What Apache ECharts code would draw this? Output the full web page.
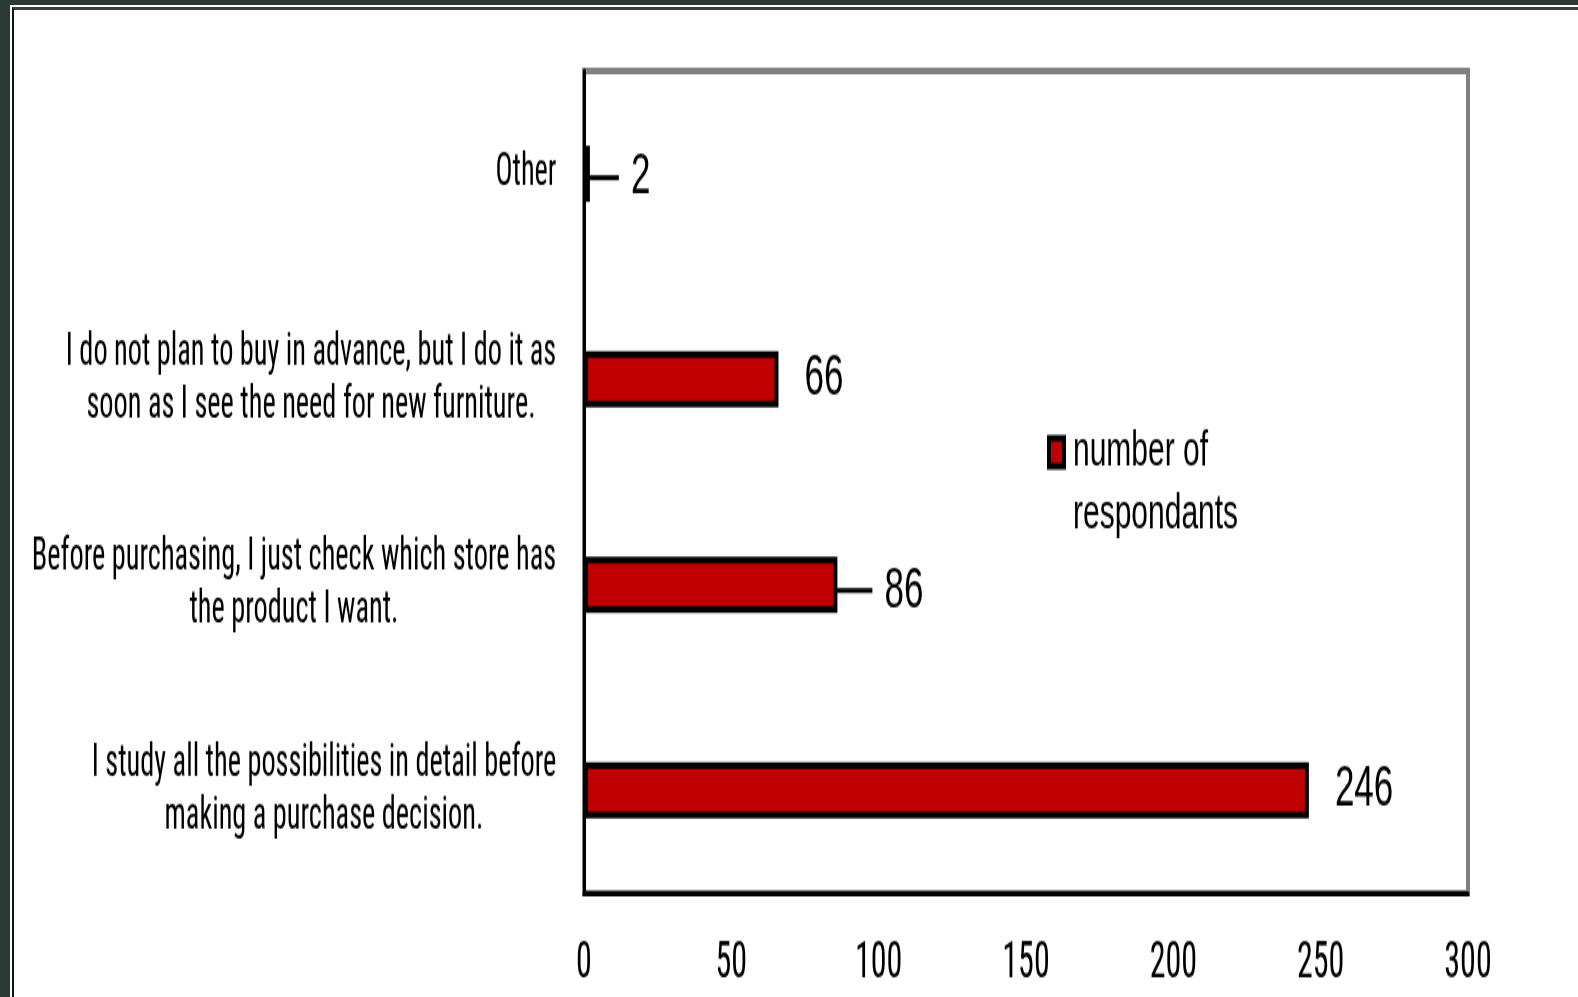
<!DOCTYPE html>
<html>
<head>
<meta charset="utf-8">
<script src="https://cdn.jsdelivr.net/npm/echarts@6/dist/echarts.min.js"></script>
<style>
  html, body { margin: 0; padding: 0; }
  body { width: 1578px; height: 997px; overflow: hidden; background: #293a34; position: relative; }
  #sheet { position: absolute; left: 10px; top: 5px; right: 0; bottom: 0; background: #ffffff; }
  #rule { position: absolute; left: 12px; top: 7px; right: 0; bottom: 0;
          border-left: 2px solid #111; border-top: 3px solid #3c3c3c; }
  /* The chart is laid out in a shorter box and stretched vertically to full height. */
  #chart { position: absolute; left: 0; top: 0; width: 1578px; height: 604px;
           transform: scaleY(1.6507); transform-origin: 0 0; }
</style>
</head>
<body>
<div id="sheet"></div>
<div id="rule"></div>
<div id="chart"></div>
<script>
// Survey answers, listed bottom to top as they appear on the category axis
const categories = [
  'I study all the possibilities in detail before\nmaking a purchase decision.',
  'Before purchasing, I just check which store has\nthe product I want.',
  'I do not plan to buy in advance, but I do it as\nsoon as I see the need for new furniture.',
  'Other'
];
const respondents = [246, 86, 66, 2];
const seriesName = 'number of respondants';
const axisMin = 0;
const axisMax = 300;
const axisStep = 50;

const NARROW = 'Roboto Condensed';
const REGULAR = 'Liberation Sans';
const CAT_FONT_SIZE = 28.3;

// Labels pushed away from their bars, joined back with a leader line
const movedLabels = { 3: { dx: 15, dy: 2.4 }, 1: { dx: 21, dy: 3.6 } };

// Width of each multi-line category label, so its lines can be centred in a right-aligned block
const ctx = document.createElement('canvas').getContext('2d');
ctx.font = CAT_FONT_SIZE + 'px "' + NARROW + '"';
const rich = {};
categories.forEach(function (c, i) {
  const w = Math.max.apply(null, c.split('\n').map(function (l) { return ctx.measureText(l).width; }));
  rich['c' + i] = { width: Math.ceil(w) + 1, align: 'center', fontFamily: NARROW,
                    fontSize: CAT_FONT_SIZE, lineHeight: 32, color: '#000' };
});

const barData = respondents.map(function (v, i) {
  return movedLabels[i] ? { value: v, labelLine: { show: true } } : v;
});

const chart = echarts.init(document.getElementById('chart'), null, { renderer: 'canvas' });
chart.setOption({
  animation: false,
  backgroundColor: 'transparent',
  grid: {
    left: 584, right: 110, top: 43, bottom: 63,
    show: true, borderColor: '#808080', borderWidth: 4,
    containLabel: false, outerBoundsMode: 'none'
  },
  legend: {
    left: 1047, top: 215, orient: 'vertical', padding: 0,
    selectedMode: false,
    icon: 'rect', itemWidth: 15, itemHeight: 17,
    itemStyle: { color: '#c00000', borderColor: '#000', borderWidth: 4 },
    // a blank first line keeps "number of" level with the swatch
    formatter: function (n) { return '\n' + n.replace(' respondants', '\nrespondants'); },
    textStyle: { fontFamily: REGULAR, fontSize: 30, lineHeight: 38, color: '#000', padding: [4, 0, 0, 4] }
  },
  xAxis: {
    type: 'value', min: axisMin, max: axisMax, interval: axisStep,
    axisLine: { show: true, onZero: false, lineStyle: { color: '#000', width: 3 } },
    axisTick: { show: false },
    splitLine: { show: false },
    axisLabel: { color: '#000', fontFamily: NARROW, fontSize: 32, margin: 26.5 }
  },
  yAxis: {
    type: 'category', data: categories,
    axisLine: { show: true, lineStyle: { color: '#000', width: 3 } },
    axisTick: { show: false },
    axisLabel: {
      margin: 27, align: 'right', color: '#000',
      fontFamily: NARROW, fontSize: CAT_FONT_SIZE, lineHeight: 32,
      formatter: function (value, index) {
        return value.split('\n').map(function (l) { return '{c' + index + '|' + l + '}'; }).join('\n');
      },
      rich: rich
    }
  },
  series: [{
    type: 'bar',
    name: seriesName,
    data: barData,
    barWidth: 34,
    itemStyle: { color: '#c00000', borderColor: '#000', borderWidth: 4 },
    label: {
      show: true, position: 'right', distance: 14, padding: [0, 0, 0, 12],
      backgroundColor: 'rgba(255,255,255,0)',
      fontFamily: REGULAR, fontSize: 35, color: '#000'
    },
    labelLine: { show: false, lineStyle: { color: '#000', width: 3 } },
    labelLayout: function (params) {
      return movedLabels[params.dataIndex] || {};
    }
  }]
});
</script>
</body>
</html>
